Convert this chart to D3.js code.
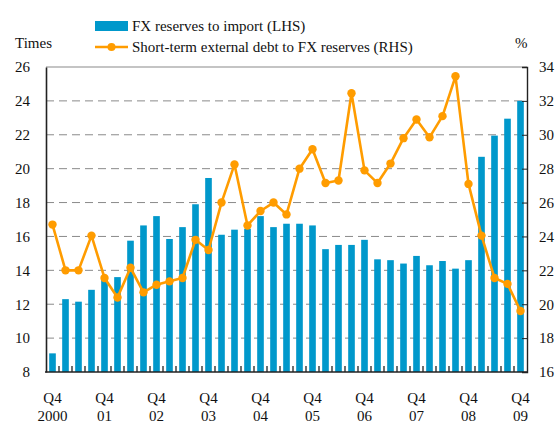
<!DOCTYPE html>
<html lang="en">
  <head>
    <meta charset="utf-8">
    <style type="text/css">
      body { margin: 0; background: #fff; }
      svg { display: block; }
      text { font-family: "Liberation Serif", "Times New Roman", serif; font-size: 15px; fill: #111; }
      .grid line { stroke: #8a8a8a; stroke-width: 1px; stroke-dasharray: 8,5; }
    </style>
  </head>
  <body>
    <script src="https://cdn.jsdelivr.net/npm/d3@7/dist/d3.min.js"></script>
    <svg id="chart"></svg>

    <script type="text/javascript">
// quarters Q4 2000 .. Q4 2009
var quarters = [];
for (var yr = 2000; yr <= 2009; yr++) {
  for (var q = 1; q <= 4; q++) {
    if (yr === 2000 && q < 4) continue;
    quarters.push("Q" + q + " " + yr);
  }
}

var yearLabels = ["2000", "01", "02", "03", "04", "05", "06", "07", "08", "09"];

// FX reserves to import, times (LHS)
var reservesToImport = [
  9.1, 12.3, 12.15, 12.85, 13.5, 13.6, 15.75, 16.65, 17.2, 15.85,
  16.55, 17.9, 19.45, 16.1, 16.4, 16.45, 17.2, 16.55, 16.75, 16.75,
  16.65, 15.25, 15.5, 15.5, 15.8, 14.65, 14.6, 14.4, 14.85, 14.3,
  14.55, 14.1, 14.6, 20.7, 21.95, 22.95, 24.0
];

// Short-term external debt to FX reserves, % (RHS)
var debtToReserves = [
  24.7, 22.0, 22.0, 24.05, 21.55, 20.4, 22.15, 20.7, 21.15, 21.35,
  21.55, 23.8, 23.2, 26.0, 28.25, 24.65, 25.5, 26.0, 25.3, 28.0,
  29.15, 27.15, 27.3, 32.45, 27.9, 27.15, 28.3, 29.8, 30.9, 29.85,
  31.1, 33.45, 27.1, 24.05, 21.55, 21.2, 19.6
];

var leftTicks = [8, 10, 12, 14, 16, 18, 20, 22, 24, 26];
var rightTicks = [16, 18, 20, 22, 24, 26, 28, 30, 32, 34];

var width = 557, height = 425;
var margin = { top: 67, bottom: 53, left: 46, right: 30 };

var svg = d3.select("#chart")
  .attr("width", width)
  .attr("height", height);

var x = d3.scaleBand()
  .domain(quarters)
  .range([margin.left, width - margin.right])
  .paddingInner(0.49)
  .paddingOuter(0.245);

var yL = d3.scaleLinear().domain([8, 26]).range([height - margin.bottom, margin.top]);
var yR = d3.scaleLinear().domain([16, 34]).range([height - margin.bottom, margin.top]);

var x0 = margin.left, x1 = width - margin.right;
var yBottom = height - margin.bottom, yTop = margin.top;

// dashed grid
svg.append("g")
  .attr("class", "grid")
  .selectAll("line")
  .data(leftTicks.filter(function(d) { return d > 8 && d < 26; }))
  .enter().append("line")
  .attr("x1", x0).attr("x2", x1)
  .attr("y1", function(d) { return yL(d); })
  .attr("y2", function(d) { return yL(d); });

// bars
svg.append("g").selectAll("rect")
  .data(reservesToImport)
  .enter().append("rect")
  .attr("x", function(d, i) { return x(quarters[i]); })
  .attr("width", x.bandwidth())
  .attr("y", function(d) { return yL(d); })
  .attr("height", function(d) { return yL(8) - yL(d); })
  .style("fill", "#0098CB");

// frame: top grey, others black
svg.append("line")
  .attr("x1", x0).attr("x2", x1).attr("y1", yTop).attr("y2", yTop)
  .style("stroke", "#8a8a8a").style("stroke-width", 1.2);

var leftAxis = d3.axisLeft(yL).tickValues(leftTicks).tickSize(0).tickPadding(16);
var gL = svg.append("g").attr("transform", "translate(" + x0 + ",0)").call(leftAxis);
gL.select(".domain").style("stroke", "#222").style("stroke-width", 1.6);
gL.selectAll("text").style("font-size", "15px").style("font-family", "Liberation Serif, serif");

var rightAxis = d3.axisRight(yR).tickValues(rightTicks).tickSize(-5).tickPadding(12);
var gR = svg.append("g").attr("transform", "translate(" + x1 + ",0)").call(rightAxis);
gR.select(".domain").style("stroke", "#222").style("stroke-width", 1.4);
gR.selectAll(".tick line").style("stroke", "#222");
gR.selectAll("text").style("font-size", "15px").style("font-family", "Liberation Serif, serif");

// bottom axis with ticks between bars
var boundaries = quarters.slice(1).map(function(d) { return x(d) - x.step() * x.paddingInner() / 2; });
svg.append("g").selectAll("line")
  .data(boundaries)
  .enter().append("line")
  .attr("x1", function(d) { return d; }).attr("x2", function(d) { return d; })
  .attr("y1", yBottom).attr("y2", yBottom - 6)
  .style("stroke", "#222").style("stroke-width", 1.3);
svg.append("line")
  .attr("x1", x0 - 1).attr("x2", x1).attr("y1", yBottom).attr("y2", yBottom)
  .style("stroke", "#222").style("stroke-width", 1.6);

// x labels
var labelIdx = quarters.map(function(d, i) { return i; }).filter(function(i) { return i % 4 === 0; });
var xl = svg.append("g").selectAll("g")
  .data(labelIdx)
  .enter().append("g")
  .attr("transform", function(i) { return "translate(" + (x(quarters[i]) + x.bandwidth() / 2) + ",0)"; });
xl.append("text")
  .attr("y", 403).attr("text-anchor", "middle")
  .text("Q4");
xl.append("text")
  .attr("y", 421).attr("text-anchor", "middle")
  .text(function(i, k) { return yearLabels[k]; });

// line series
var line = d3.line()
  .x(function(d, i) { return x(quarters[i]) + x.bandwidth() / 2; })
  .y(function(d) { return yR(d); });

svg.append("path")
  .datum(debtToReserves)
  .attr("d", line)
  .style("fill", "none")
  .style("stroke", "#FF9C00")
  .style("stroke-width", 2.6)
  .style("stroke-linejoin", "round");

svg.append("g").selectAll("circle")
  .data(debtToReserves)
  .enter().append("circle")
  .attr("cx", function(d, i) { return x(quarters[i]) + x.bandwidth() / 2; })
  .attr("cy", function(d) { return yR(d); })
  .attr("r", 4.2)
  .style("fill", "#FF9C00");

// axis titles
svg.append("text").attr("x", 15).attr("y", 48).text("Times");
svg.append("text").attr("x", 515).attr("y", 48).text("%");

// legend
var legend = svg.append("g");
legend.append("rect")
  .attr("x", 95).attr("y", 21).attr("width", 33).attr("height", 10)
  .style("fill", "#0098CB");
legend.append("text").attr("x", 132).attr("y", 31).text("FX reserves to import (LHS)");
legend.append("line")
  .attr("x1", 95).attr("x2", 128).attr("y1", 47).attr("y2", 47)
  .style("stroke", "#FF9C00").style("stroke-width", 2.6);
legend.append("circle")
  .attr("cx", 111.5).attr("cy", 47).attr("r", 4)
  .style("fill", "#FF9C00");
legend.append("text").attr("x", 132).attr("y", 52).text("Short-term external debt to FX reserves (RHS)");
    </script>
  </body>
</html>
